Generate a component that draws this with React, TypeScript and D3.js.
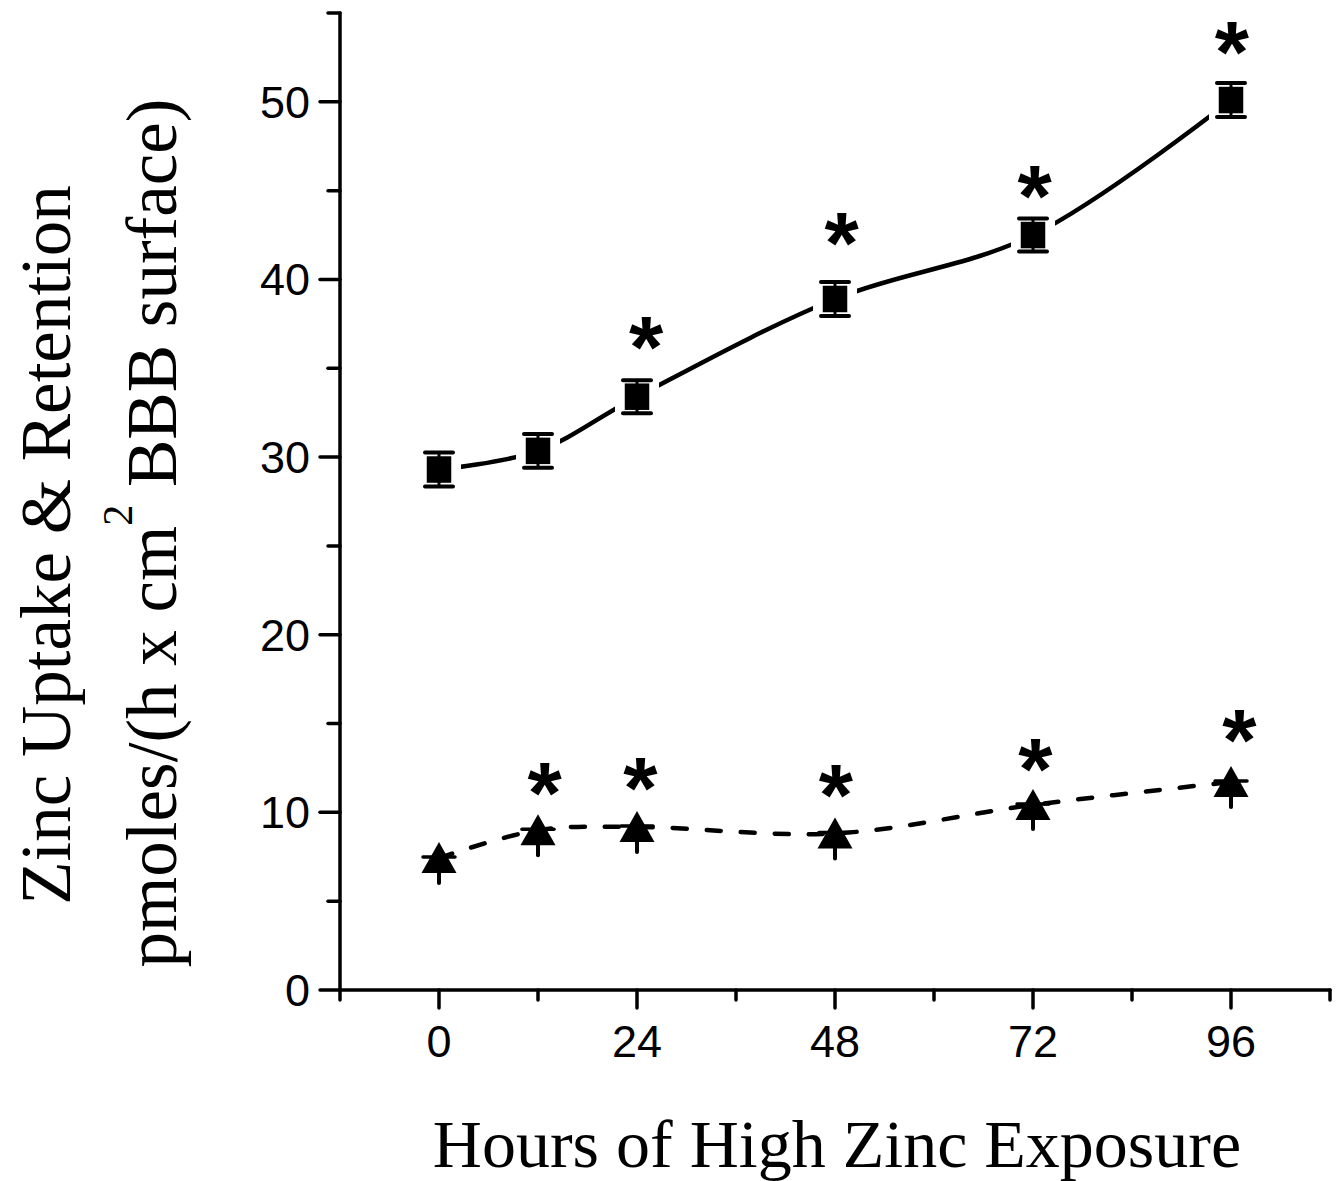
import React from 'react';
import * as d3 from 'd3';

// hours of exposure
const hours = [0, 12, 24, 48, 72, 96];

// zinc uptake (squares, solid line)
const uptake = [29.3, 30.35, 33.4, 38.9, 42.5, 50.1];
const uptakeErr = [0.96, 0.95, 0.93, 0.96, 0.93, 0.96];
// asterisk positions (hours, value); null = no asterisk
const uptakeStarX = [null, null, 25.1, 48.8, 72.2, 96.1];
const uptakeStarY = [null, null, 36.9, 42.74, 45.4, 53.5];

// zinc retention (triangles, dashed line)
const retention = [7.43, 9.0, 9.18, 8.81, 10.42, 11.71];
const retentionErr = [1.41, 1.41, 1.41, 1.41, 1.35, 1.41];
const retentionStarX = [null, 12.8, 24.4, 48.1, 72.3, 97.0];
const retentionStarY = [null, 11.77, 12.05, 11.66, 13.12, 14.75];

const xMajor = [0, 24, 48, 72, 96];
const xMinor = [-12, 12, 36, 60, 84, 108];
const yMajor = [0, 10, 20, 30, 40, 50];
const yMinor = [5, 15, 25, 35, 45, 55];

const W = 1342;
const H = 1181;
const SANS = '"Liberation Sans", Arial, sans-serif';
const SERIF = '"Liberation Serif", "Times New Roman", serif';
const STAR_SIZE = 88;

export default function App() {
  const x = d3.scaleLinear().domain([-12, 108]).range([340, 1330]);
  const y = d3.scaleLinear().domain([0, 55]).range([990, 13]);

  const line = d3
    .line<number>()
    .x((d, i) => x(hours[i]))
    .y(d => y(d))
    .curve(d3.curveCatmullRom.alpha(0.5));

  const star = (sx: number | null, sy: number | null, i: number, key: string) => {
    if (sx === null || sy === null) return null;
    return (
      <text
        key={key + i}
        x={x(sx)}
        y={y(sy) + STAR_SIZE * 0.48}
        textAnchor="middle"
        fontFamily={SANS}
        fontWeight="bold"
        fontSize={STAR_SIZE}
      >
        *
      </text>
    );
  };

  return (
    <svg width={W} height={H} style={{ position: 'absolute', left: 0, top: 0, background: '#fff' }}>
      <defs>
        <mask id="gapMask" maskUnits="userSpaceOnUse" x={0} y={0} width={W} height={H}>
          <rect x={0} y={0} width={W} height={H} fill="#fff" />
          {uptake.map((v, i) => (
            <rect key={i} x={x(hours[i]) - 22} y={y(v) - 22} width={44} height={44} fill="#000" />
          ))}
        </mask>
      </defs>

      {/* axes */}
      <g stroke="#000" strokeWidth={3.5} strokeLinecap="round">
        <line x1={340} y1={y(55)} x2={340} y2={990} />
        <line x1={340} y1={990} x2={x(108)} y2={990} />
        {yMajor.map(v => (
          <line key={'ym' + v} x1={320} x2={340} y1={y(v)} y2={y(v)} />
        ))}
        {yMinor.map(v => (
          <line key={'yn' + v} x1={328} x2={340} y1={y(v)} y2={y(v)} />
        ))}
        {xMajor.map(v => (
          <line key={'xm' + v} x1={x(v)} x2={x(v)} y1={990} y2={1008} />
        ))}
        {xMinor.map(v => (
          <line key={'xn' + v} x1={x(v)} x2={x(v)} y1={990} y2={1000} />
        ))}
      </g>

      {/* tick labels */}
      <g fontFamily={SANS} fontSize={45} fill="#000">
        {yMajor.map(v => (
          <text key={'yl' + v} x={310} y={y(v) + 16} textAnchor="end">
            {v}
          </text>
        ))}
        {xMajor.map(v => (
          <text key={'xl' + v} x={x(v)} y={1057} textAnchor="middle">
            {v}
          </text>
        ))}
      </g>

      {/* axis titles */}
      <text x={837} y={1167} textAnchor="middle" fontFamily={SERIF} fontSize={68}>
        Hours of High Zinc Exposure
      </text>
      <text transform="translate(70,545) rotate(-90)" textAnchor="middle" fontFamily={SERIF} fontSize={71}>
        Zinc Uptake &amp; Retention
      </text>
      <text transform="translate(176,533) rotate(-90)" textAnchor="middle" fontFamily={SERIF} fontSize={71}>
        pmoles/(h x cm
        <tspan fontSize={42} dy={-44}>2</tspan>
        <tspan dy={44}> BBB surface)</tspan>
      </text>

      {/* uptake line with gaps around markers */}
      <path d={line(uptake) || ''} fill="none" stroke="#000" strokeWidth={4.5} mask="url(#gapMask)" />
      {/* retention dashed line */}
      <path
        d={line(retention) || ''}
        fill="none"
        stroke="#000"
        strokeWidth={4.5}
        strokeDasharray="14 20"
        strokeLinecap="round"
      />

      {/* square markers with error bars */}
      {uptake.map((v, i) => {
        const cx = x(hours[i]);
        const cy = y(v);
        const e = y(v - uptakeErr[i]) - cy;
        return (
          <g key={'sq' + i}>
            <rect x={cx - 13} y={cy - 14} width={26} height={28} fill="#000" stroke="#fff" strokeWidth={1.5} />
            <line x1={cx} x2={cx} y1={cy - e} y2={cy + e} stroke="#000" strokeWidth={3} />
            <line x1={cx - 14} x2={cx + 14} y1={cy - e} y2={cy - e} stroke="#000" strokeWidth={4} strokeLinecap="round" />
            <line x1={cx - 14} x2={cx + 14} y1={cy + e} y2={cy + e} stroke="#000" strokeWidth={4} strokeLinecap="round" />
          </g>
        );
      })}

      {/* triangle markers with error bars */}
      {retention.map((v, i) => {
        const cx = x(hours[i]);
        const cy = y(v);
        const e = y(v - retentionErr[i]) - cy;
        const tri = d3.path();
        tri.moveTo(cx, cy - 16);
        tri.lineTo(cx + 17.5, cy + 15);
        tri.lineTo(cx - 17.5, cy + 15);
        tri.closePath();
        return (
          <g key={'tr' + i}>
            <line x1={cx} x2={cx} y1={cy} y2={cy + e} stroke="#000" strokeWidth={4} strokeLinecap="round" />
            <path d={tri.toString()} fill="#000" />
            <line x1={cx - 16} x2={cx + 16} y1={cy - 1} y2={cy - 1} stroke="#000" strokeWidth={3.5} strokeLinecap="round" />
          </g>
        );
      })}

      {/* significance asterisks */}
      {uptakeStarX.map((sx, i) => star(sx, uptakeStarY[i], i, 'us'))}
      {retentionStarX.map((sx, i) => star(sx, retentionStarY[i], i, 'rs'))}
    </svg>
  );
}
